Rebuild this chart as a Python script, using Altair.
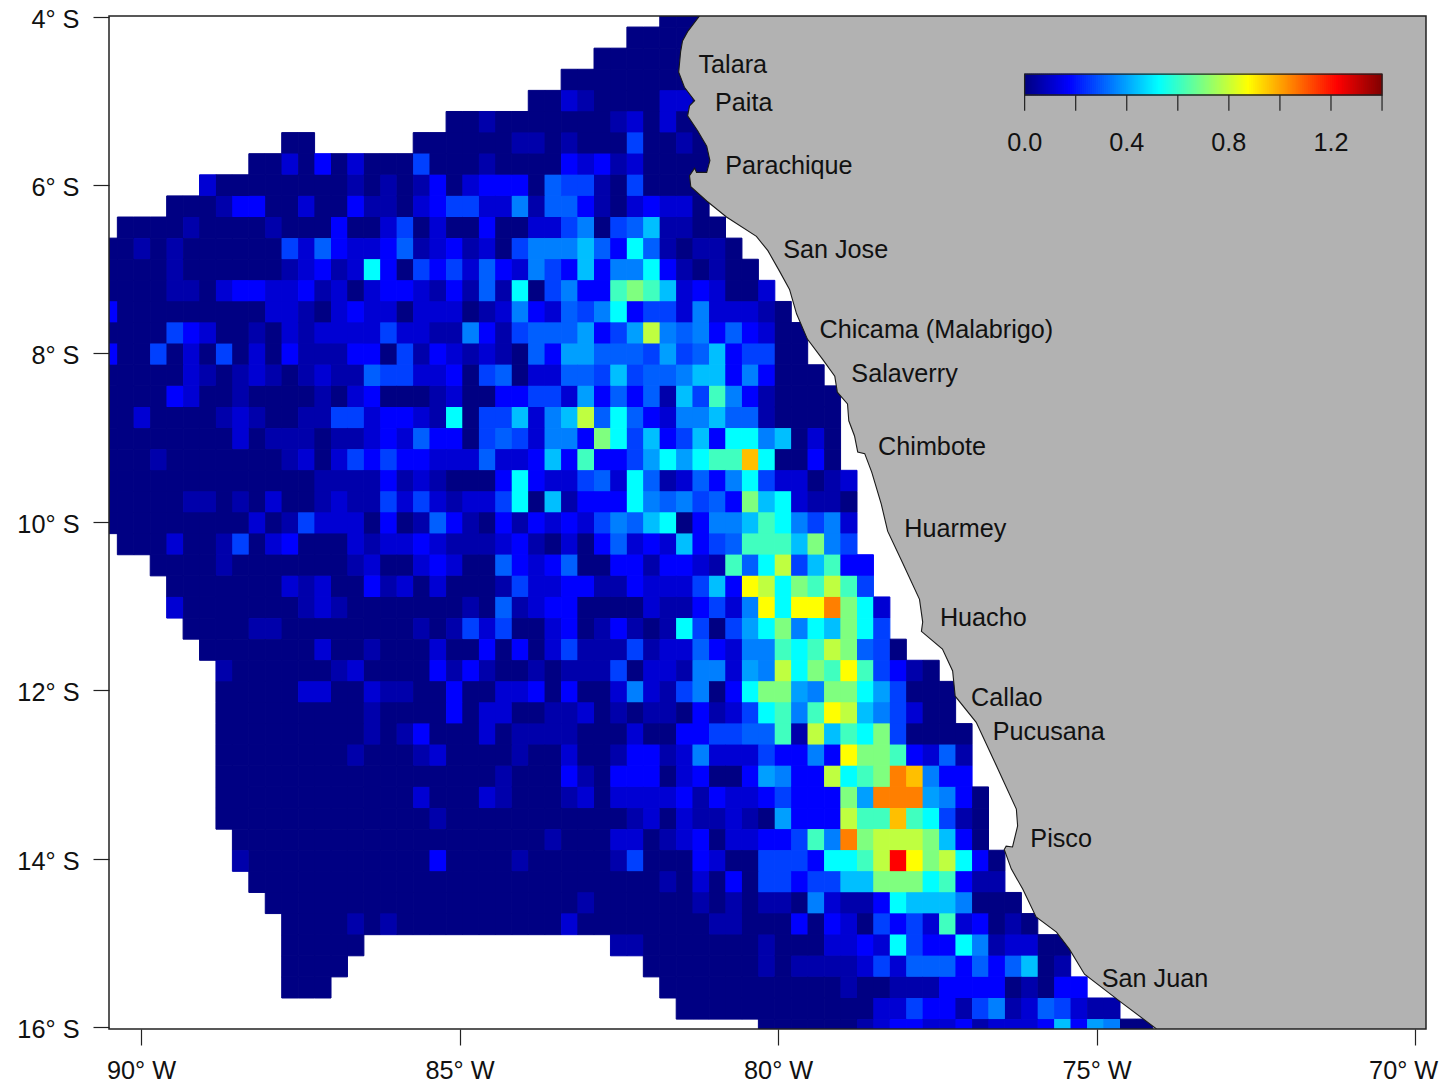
import altair as alt
import pandas as pd

# Colour classes -> value on the 0..1.4 scale
LEVELS = {'0': 0.005, '1': 0.06, '2': 0.115, '3': 0.175, '4': 0.2625, 'x': 0.306, '5': 0.35,
          'y': 0.394, '6': 0.4375, '7': 0.525, '8': 0.6125, '9': 0.70, 'a': 0.7875,
          'b': 0.875, 'c': 0.9625, 'd': 1.05, 'e': 1.225}

# (row, first column, cell classes)
CELLS = [
 (0, 34, "000"),
 (1, 32, "00000"),
 (2, 30, "0000000"),
 (3, 28, "000000000"),
 (4, 26, "00210000220"),
 (5, 21, "0010000000120200"),
 (6, 11, "00"),
 (6, 19, "000000110100040010"),
 (7, 9, "002030200040" "00100003231200000"),
 (8, 6, "200000000101013" "023330x441040000"),
 (9, 4, "00013300200311023" "442251xx31023220"),
 (10, 1, "00001000010003002402" "00300224504x61100"),
 (11, 0, "00101000000" "42x3223x12" "312045556x37x10110"),
 (12, 0, "00001000000" "1231273043" "42x3254363557310100"),
 (13, 0, "00001102332" "2312023321" "31x17045338986232002"),
 (14, 0, "30000000002" "2102322022" "2012532x4573442522210"),
 (15, 0, "00004320010" "2122224221" "15314xxxy34ya5x53x3200"),
 (16, 0, "30040204020" "3111330413" "21210x3yyxxx4y4x634400"),
 (17, 0, "00000210121" "01211x4422" "304x022xx464xx566353000"),
 (18, 0, "00003200100" "0010230001" "20033442y3x3x16485310000"),
 (19, 0, "00200001210" "0114423321" "70446256ax7x32556xx10000"),
 (20, 0, "00000000201" "11011232x3" "304x42553974634637756020"),
 (21, 0, "00010000000" "1202434332" "22x22363833" "4y7y788c70030"),
 (22, 0, "00000000000" "0011113121" "000373224x27x12x357422012"),
 (23, 0, "00000110102" "0012114242" "1224706133375x54x39672110"),
 (24, 0, "00000000020" "142220301x" "31031323245x6703556875452"),
 (25, 1, "0002001402" "3000212232" "1112310203x232634x8886954"),
 (26, 3, "00001000" "0000120023" "200x323x0033133218x7a46833"),
 (27, 4, "0000000" "2120031202" "000142233113222463" "ba798a84"),
 (28, 4, "2000000" "0121000000" "010x123300002113425b7bbd972"),
 (29, 5, "000011" "0000000010" "14240023013101" "7404y7957" "6974"),
 (30, 6, "00000" "0020010002" "003030241114122" "x3255878a9x40"),
 (31, 7, "1000" "0001200003" "131001011140221" "552y5a798b84310"),
 (32, 7, "00000" "220021100" "300223030025214" "5037" "99y5997y4000"),
 (33, 7, "00000000010000" "302200112010110" "31247858ba654200"),
 (34, 7, "000000000" "10130" "002011110002003" "344xx81a687940000"),
 (35, 7, "00000000" "100012" "000010020013312" "522243353b99832x1"),
 (36, 7, "00000000000000" "000100031033302" "3003y533a789dc533"),
 (37, 7, "000000000000" "20" "002100012022223" "1322343339ydddy530"),
 (38, 7, "0000000000000" "1" "00000000000" "1202" "11210y333a88c87410"),
 (39, 8, "0000000000000" "000000100022012" "302233485d9aaa9630"),
 (40, 8, "1" "00000000000" "3" "000010000014000" "32004443778aeb9a730"),
 (41, 9, "000000000000" "0000000000000" "10" "2030443446699978311"),
 (42, 10, "00000000000" "00000000" "1" "000000" "10101105211376665000"),
 (43, 11, "0000" "1" "0" "1" "000" "0000000" "2" "0000000" "011000303204342823010"),
 (44, 11, "00000"),
 (44, 31, "1100000001000" "223274337512200"),
 (45, 11, "0000"),
 (45, 33, "0000000" "101111242xxx3x3x601"),
 (46, 11, "000"),
 (46, 34, "00000000000" "100111333301033"),
 (47, 35, "000000000000" "2243314512x4211"),
 (48, 40, "000000" "123322312223" "63y500"),
]

COAST_LON = [-81.23, -81.42, -81.50, -81.53, -81.56, -81.47, -81.31, -81.39, -81.42, -81.26, -81.12,
             -81.07, -81.12, -81.28, -81.31, -81.39, -81.37, -81.12, -80.81, -80.34, -80.16, -79.98,
             -79.82, -79.71, -79.54, -79.30, -79.11, -79.07, -78.91, -78.89, -78.80, -78.75, -78.64,
             -78.53, -78.38, -78.28, -78.05, -77.78, -77.73, -77.75, -77.42, -77.26, -77.22, -76.89,
             -76.60, -76.26, -76.24, -76.32, -76.42, -76.45, -76.34, -76.16, -75.95, -75.63, -75.43,
             -75.19, -74.64, -74.06]
COAST_LAT = [-3.99, -4.18, -4.29, -4.42, -4.66, -4.84, -5.00, -5.06, -5.18, -5.36, -5.54,
             -5.71, -5.85, -5.85, -5.80, -5.89, -6.02, -6.19, -6.38, -6.61, -6.78, -7.02,
             -7.24, -7.53, -7.83, -8.07, -8.27, -8.46, -8.60, -8.80, -8.98, -9.17, -9.19,
             -9.41, -9.79, -10.11, -10.48, -10.92, -11.19, -11.30, -11.51, -11.77, -12.07, -12.38,
             -12.85, -13.41, -13.61, -13.86, -13.85, -13.89, -14.12, -14.36, -14.69, -14.87, -15.07,
             -15.37, -15.69, -16.02]

CITIES = ["Talara", "Paita", "Parachique", "San Jose", "Chicama (Malabrigo)", "Salaverry", "Chimbote",
          "Huarmey", "Huacho", "Callao", "Pucusana", "Pisco", "San Juan"]
CITY_LON = [-81.25, -80.99, -80.83, -79.92, -79.35, -78.85, -78.43, -78.02, -77.46, -76.97, -76.63, -76.04, -74.92]
CITY_LAT = [-4.58, -5.03, -5.78, -6.77, -7.72, -8.25, -9.11, -10.09, -11.14, -12.09, -12.50, -13.76, -15.43]

COLOR_DOMAIN = [0, 0.175, 0.35, 0.525, 0.7, 0.875, 1.05, 1.225, 1.4]
COLOR_RANGE = ["#00007F", "#0000FF", "#007FFF", "#00FFFF", "#7FFF7F", "#FFFF00", "#FF7F00", "#FF0000", "#7F0000"]
BAR_MAX = 1.4
BAR_TICKS = [0, 0.2, 0.4, 0.6, 0.8, 1.0, 1.2, 1.4]
BAR_LABELS = ["0.0", "0.4", "0.8", "1.2"]
BAR_LON = (-76.13, -70.52)
BAR_LAT = (-4.683, -4.932)
BAR_TICK_LAT = (-4.932, -5.12)
BAR_LABEL_LAT = -5.50
BAR_STRIPS = 180

LON_MIN, LON_MAX = -90.502, -69.83
LAT_MIN, LAT_MAX = -16.021, -3.994
LON_STEP, LAT_STEP = 0.258, 0.2506

rows = []
for j, start, text in CELLS:
    for k, ch in enumerate(text):
        lon = -90.5 + LON_STEP * (start + k)
        lat = -4.0 - LAT_STEP * j
        rows.append({"x0": lon - LON_STEP / 2, "x1": lon + LON_STEP / 2,
                     "y0": lat - LAT_STEP / 2, "y1": lat + LAT_STEP / 2, "v": LEVELS[ch]})
cells = pd.DataFrame(rows)


def bar_x(v):
    return BAR_LON[0] + v / BAR_MAX * (BAR_LON[1] - BAR_LON[0])


strips = pd.DataFrame([{"x0": bar_x(k / BAR_STRIPS * BAR_MAX), "x1": bar_x((k + 1) / BAR_STRIPS * BAR_MAX),
                        "y0": BAR_LAT[1], "y1": BAR_LAT[0], "v": (k + 0.5) / BAR_STRIPS * BAR_MAX}
                       for k in range(BAR_STRIPS)])

land_lon = COAST_LON + [LON_MAX, LON_MAX]
land_lat = COAST_LAT + [LAT_MIN, LAT_MAX]
land = pd.DataFrame({"lon": land_lon, "lat": land_lat, "i": range(len(land_lon))})
coast = pd.DataFrame({"lon": COAST_LON, "lat": COAST_LAT, "i": range(len(COAST_LON))})
cities = pd.DataFrame({"name": CITIES, "lon": CITY_LON, "lat": CITY_LAT})
bar_ticks = pd.DataFrame({"lon": [bar_x(t) for t in BAR_TICKS], "a": BAR_TICK_LAT[0], "b": BAR_TICK_LAT[1]})
bar_labels = pd.DataFrame({"name": BAR_LABELS, "lon": [bar_x(float(t)) for t in BAR_LABELS], "lat": BAR_LABEL_LAT})
bar_box = pd.DataFrame({"a": [BAR_LON[0]], "b": [BAR_LON[1]], "c": [BAR_LAT[1]], "d": [BAR_LAT[0]]})
frame = pd.DataFrame({"a": [LON_MIN], "b": [LON_MAX], "c": [LAT_MIN], "d": [LAT_MAX]})

FONT = "Liberation Sans"
xs = alt.Scale(domain=[LON_MIN, LON_MAX], nice=False, zero=False)
ys = alt.Scale(domain=[LAT_MIN, LAT_MAX], nice=False, zero=False)
cs = alt.Scale(domain=COLOR_DOMAIN, range=COLOR_RANGE, interpolate="rgb", clamp=True)

x_axis = alt.Axis(title=None, values=[-90, -85, -80, -75, -70], labelExpr="abs(datum.value) + '° W'",
                  grid=False, domain=False, tickSize=16, tickColor="#222", tickWidth=1.2,
                  labelFont=FONT, labelFontSize=25.3, labelColor="#111", labelPadding=13,
                  labelOffset=alt.expr("datum.value == -70 ? -12 : 0"))
y_axis = alt.Axis(title=None, values=[-4, -6, -8, -10, -12, -14, -16], labelExpr="abs(datum.value) + '° S'",
                  grid=False, domain=False, tickSize=16, tickColor="#222", tickWidth=1.2,
                  labelFont=FONT, labelFontSize=25.3, labelColor="#111", labelPadding=14, labelOffset=2.5)

# seam-hiding outlines drawn underneath, fills on top
seams = alt.Chart(cells).mark_rect(clip=True, strokeWidth=1, fillOpacity=0).encode(
    x=alt.X("x0:Q", scale=xs, axis=x_axis), x2="x1:Q",
    y=alt.Y("y0:Q", scale=ys, axis=y_axis), y2="y1:Q",
    stroke=alt.Stroke("v:Q", scale=cs, legend=None),
)
rects = alt.Chart(cells).mark_rect(clip=True).encode(
    x=alt.X("x0:Q", scale=xs), x2="x1:Q",
    y=alt.Y("y0:Q", scale=ys), y2="y1:Q",
    color=alt.Color("v:Q", scale=cs, legend=None),
)
land_fill = alt.Chart(land).mark_line(fill="#B2B2B2", stroke="#B2B2B2", strokeWidth=0, clip=True).encode(
    x=alt.X("lon:Q", scale=xs), y=alt.Y("lat:Q", scale=ys), order="i:Q")
coast_line = alt.Chart(coast).mark_line(stroke="#1a1a1a", strokeWidth=1.1, clip=True).encode(
    x=alt.X("lon:Q", scale=xs), y=alt.Y("lat:Q", scale=ys), order="i:Q")
labels = alt.Chart(cities).mark_text(align="left", baseline="middle", font=FONT, fontSize=25.2, color="#111").encode(
    x=alt.X("lon:Q", scale=xs), y=alt.Y("lat:Q", scale=ys), text="name:N")
bar_seams = alt.Chart(strips).mark_rect(strokeWidth=1, fillOpacity=0).encode(
    x=alt.X("x0:Q", scale=xs), x2="x1:Q", y=alt.Y("y0:Q", scale=ys), y2="y1:Q",
    stroke=alt.Stroke("v:Q", scale=cs, legend=None))
bar = alt.Chart(strips).mark_rect().encode(
    x=alt.X("x0:Q", scale=xs), x2="x1:Q", y=alt.Y("y0:Q", scale=ys), y2="y1:Q",
    color=alt.Color("v:Q", scale=cs, legend=None))
bar_outline = alt.Chart(bar_box).mark_rect(fillOpacity=0, stroke="#222", strokeWidth=1.3).encode(
    x=alt.X("a:Q", scale=xs), x2="b:Q", y=alt.Y("c:Q", scale=ys), y2="d:Q")
ticks = alt.Chart(bar_ticks).mark_rule(color="#222", strokeWidth=1.2).encode(
    x=alt.X("lon:Q", scale=xs), y=alt.Y("a:Q", scale=ys), y2="b:Q")
bar_text = alt.Chart(bar_labels).mark_text(align="center", baseline="middle", font=FONT, fontSize=25.2, color="#111").encode(
    x=alt.X("lon:Q", scale=xs), y=alt.Y("lat:Q", scale=ys), text="name:N")
box = alt.Chart(frame).mark_rect(fillOpacity=0, stroke="#222", strokeWidth=1.5).encode(
    x=alt.X("a:Q", scale=xs), x2="b:Q", y=alt.Y("c:Q", scale=ys), y2="d:Q")

chart = alt.layer(seams, rects, land_fill, coast_line, labels, bar_seams, bar, bar_outline, ticks, bar_text, box).properties(
    width=1317, height=1013, autosize=alt.AutoSizeParams(type="none"),
    padding={"left": 101, "top": 8, "right": 13, "bottom": 53},
    background="white",
).configure_view(stroke=None)

chart.save("out.html", embed_options={"renderer": "svg", "actions": False})
